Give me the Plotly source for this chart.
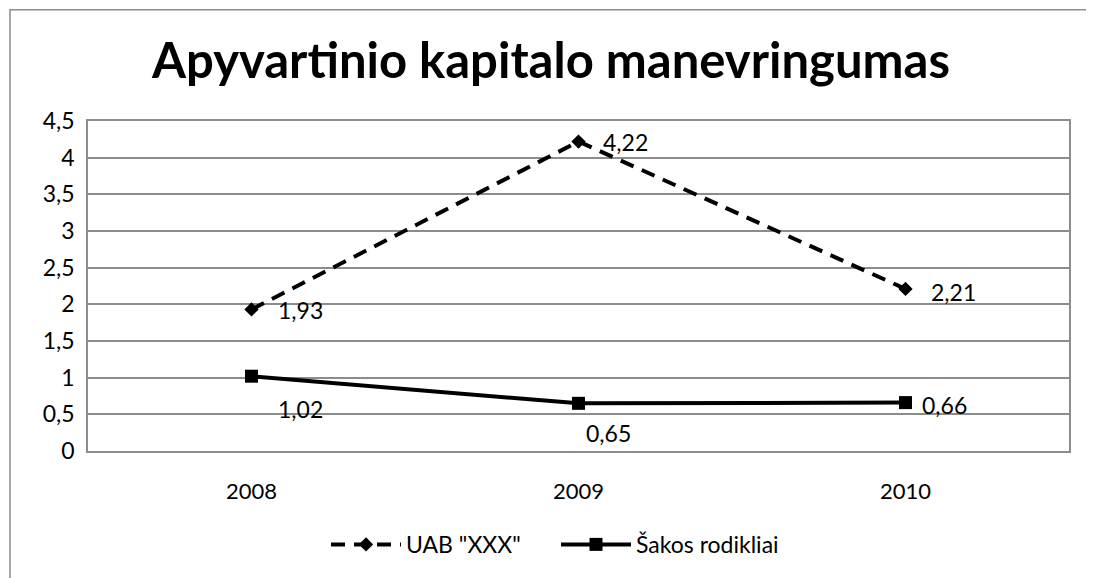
import plotly.graph_objects as go

years = ["2008", "2009", "2010"]
uab_values = [1.93, 4.22, 2.21]
sakos_values = [1.02, 0.65, 0.66]
uab_name = 'UAB "XXX"'
sakos_name = "Šakos rodikliai"
title_text = "Apyvartinio kapitalo manevringumas"
y_tick_vals = [0, 0.5, 1, 1.5, 2, 2.5, 3, 3.5, 4, 4.5]


def fmt(v):
    s = ("%.2f" % v).rstrip("0").rstrip(".")
    return s.replace(".", ",")


# label offsets (pixels) for the data labels: styling only
uab_label_shift = [(24, -1), (22, 0), (23, -3)]
sakos_label_shift = [(24, -33), (5, -30), (14, -2)]

FONT = "Lato"
GRID = "#8c8c8c"
W, H = 1086, 570          # page body has an 8px default margin
ML, MR, MT, MB = 80, 25, 113, 125
PW, PH = W - ML - MR, H - MT - MB

fig = go.Figure()
fig.add_trace(go.Scatter(
    x=years, y=uab_values, name=uab_name, mode="lines+markers",
    line=dict(color="black", width=4, dash="14px,9px"),
    marker=dict(symbol="diamond", size=11, color="black"),
))
fig.add_trace(go.Scatter(
    x=years, y=sakos_values, name=sakos_name, mode="lines+markers",
    line=dict(color="black", width=4),
    marker=dict(symbol="square", size=13, color="black"),
))

annotations = []
for vals, shifts in ((uab_values, uab_label_shift), (sakos_values, sakos_label_shift)):
    for i, (yv, (dx, dy)) in enumerate(zip(vals, shifts)):
        annotations.append(dict(
            x=i, y=yv, xref="x", yref="y", text=fmt(yv), showarrow=False,
            xanchor="left", yanchor="middle", xshift=dx, yshift=dy,
            font=dict(family=FONT, size=23, color="black"),
        ))

fig.update_layout(
    width=W, height=H,
    paper_bgcolor="white", plot_bgcolor="white",
    margin=dict(l=ML, r=MR, t=MT, b=MB),
    title=dict(text="<b>" + title_text + "</b>", x=0.5, xanchor="center",
               xref="container",
               y=1 - 53 / H, yanchor="middle", yref="container",
               font=dict(family=FONT, size=49, color="black")),
    font=dict(family=FONT, size=22, color="black"),
    showlegend=True,
    legend=dict(orientation="h", x=(318 - ML) / PW, xanchor="left",
                y=-(539 - (H - MB)) / PH, yanchor="middle",
                font=dict(family=FONT, size=23, color="black"),
                itemwidth=70, entrywidth=145, entrywidthmode="pixels",
                tracegroupgap=0),
    annotations=annotations,
    shapes=[dict(type="rect", xref="paper", yref="paper",
                 x0=(2 - ML) / PW, x1=(W + 20 - ML) / PW,
                 y0=((H - MB) - (H + 20)) / PH, y1=((H - MB) - 1) / PH,
                 line=dict(color="#8c8c8c", width=1.5), fillcolor="rgba(0,0,0,0)",
                 layer="below")],
)
fig.update_xaxes(type="category", range=[-0.5, 2.5], showgrid=False,
                 showline=True, linecolor=GRID, linewidth=1.5, mirror=True,
                 ticks="", tickfont=dict(family=FONT, size=22), ticklabelstandoff=20)
fig.update_yaxes(range=[0, 4.5], tickvals=y_tick_vals,
                 ticktext=[fmt(v) for v in y_tick_vals],
                 showgrid=True, gridcolor=GRID, gridwidth=1.5,
                 showline=True, linecolor=GRID, linewidth=1.5, mirror=True,
                 zeroline=False, ticks="", tickfont=dict(family=FONT, size=23),
                 ticklabelstandoff=7)

fig.write_html("out.html")
